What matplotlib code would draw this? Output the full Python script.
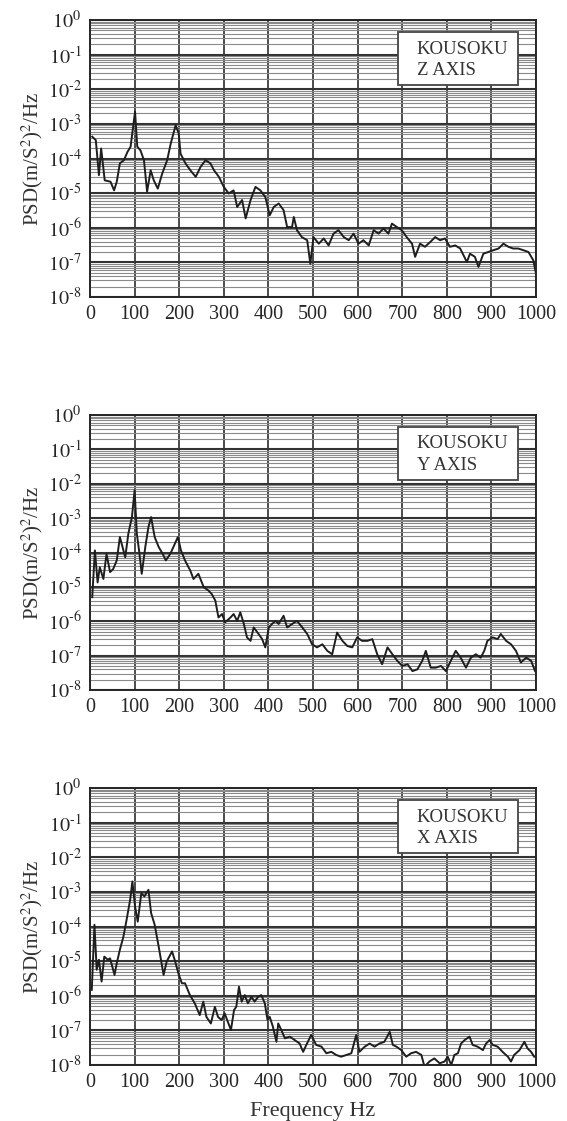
"""Three PSD panels (KOUSOKU Z / Y / X axis), log scale, scanned-figure look."""
import matplotlib
matplotlib.use("Agg")
import matplotlib.pyplot as plt
from matplotlib.patches import Rectangle
from matplotlib.ticker import LogLocator, NullFormatter, MultipleLocator, FuncFormatter
import numpy as np

# ---- data: frequency (Hz) and log10(PSD) ----
z_freq = [5, 13, 20, 25, 33, 46, 54, 60, 67, 76, 84, 91, 101, 106, 113, 121, 128, 136, 143, 152,
          162, 173, 181, 192, 199, 203, 214, 225, 237, 248, 259, 270, 278, 289, 300, 311, 322, 330,
          341, 349, 360, 371, 382, 393, 403, 412, 423, 434, 442, 453, 457, 464, 475, 487, 494, 501,
          513, 524, 535, 546, 557, 569, 580, 591, 602, 613, 625, 636, 647, 658, 669, 677, 688, 699,
          710, 722, 729, 740, 751, 763, 774, 785, 796, 807, 819, 830, 845, 852, 863, 871, 882, 893,
          904, 916, 927, 938, 949, 960, 972, 983, 994, 1000]
z_log = [-3.37, -3.47, -4.48, -3.71, -4.63, -4.67, -4.92, -4.67, -4.14, -4.05, -3.81, -3.66, -2.65,
         -3.66, -3.76, -4.05, -4.96, -4.34, -4.63, -4.87, -4.43, -4.05, -3.57, -3.04, -3.28, -3.86,
         -4.14, -4.34, -4.53, -4.24, -4.05, -4.14, -4.34, -4.53, -4.82, -5.01, -4.92, -5.40, -5.20,
         -5.73, -5.20, -4.82, -4.92, -5.11, -5.64, -5.40, -5.30, -5.49, -5.98, -5.98, -5.69, -6.07,
         -6.27, -6.36, -7.04, -6.27, -6.46, -6.31, -6.51, -6.17, -6.07, -6.27, -6.36, -6.17, -6.46,
         -6.36, -6.51, -6.07, -6.17, -6.02, -6.17, -5.88, -5.98, -6.07, -6.27, -6.46, -6.84, -6.46,
         -6.55, -6.41, -6.27, -6.36, -6.31, -6.55, -6.51, -6.60, -6.99, -6.75, -6.84, -7.13, -6.75,
         -6.70, -6.65, -6.60, -6.46, -6.55, -6.60, -6.60, -6.65, -6.70, -6.94, -7.33]

y_freq = [5, 11, 17, 22, 30, 37, 45, 52, 60, 67, 75, 79, 86, 94, 100, 105, 110, 116, 124, 131,
          137, 145, 154, 163, 170, 180, 187, 197, 204, 213, 225, 232, 243, 255, 266, 273, 281, 288,
          296, 303, 315, 322, 330, 337, 345, 352, 360, 367, 378, 386, 393, 401, 408, 416, 423, 434,
          442, 453, 464, 476, 487, 498, 509, 521, 532, 543, 554, 566, 577, 588, 599, 610, 622, 633,
          644, 655, 667, 678, 689, 700, 712, 723, 734, 745, 753, 764, 775, 787, 798, 809, 820, 831,
          843, 854, 865, 876, 884, 891, 903, 914, 921, 933, 944, 955, 966, 978, 989, 998]
y_log = [-5.30, -3.94, -4.87, -4.43, -4.77, -4.04, -4.57, -4.48, -4.23, -3.55, -3.94, -4.14, -3.45,
         -2.97, -2.19, -3.45, -3.94, -4.62, -3.84, -3.26, -2.97, -3.55, -3.84, -4.04, -4.23, -4.04,
         -3.84, -3.55, -3.94, -4.23, -4.53, -4.77, -4.62, -5.01, -5.11, -5.21, -5.40, -5.89, -5.79,
         -6.03, -5.89, -5.79, -5.99, -5.74, -6.08, -6.47, -6.57, -6.18, -6.37, -6.52, -6.76, -6.18,
         -6.08, -5.99, -6.08, -5.84, -6.18, -6.08, -5.99, -6.18, -6.37, -6.67, -6.76, -6.67, -6.86,
         -6.96, -6.33, -6.57, -6.72, -6.76, -6.47, -6.57, -6.57, -6.52, -6.96, -7.25, -6.76, -6.96,
         -7.15, -7.30, -7.25, -7.45, -7.40, -7.15, -6.86, -7.35, -7.35, -7.30, -7.45, -7.15, -6.86,
         -7.06, -7.35, -7.06, -6.96, -7.06, -6.86, -6.57, -6.47, -6.52, -6.37, -6.57, -6.67, -6.86,
         -7.20, -7.06, -7.15, -7.45]

x_freq = [4, 10, 15, 20, 26, 32, 40, 45, 55, 60, 67, 75, 82, 90, 95, 101, 107, 115, 122, 131,
          137, 145, 154, 165, 172, 184, 191, 198, 206, 213, 224, 235, 246, 254, 261, 271, 280, 287,
          295, 302, 316, 323, 328, 334, 340, 347, 354, 362, 369, 377, 384, 392, 398, 403, 410, 418,
          422, 429, 437, 448, 459, 470, 478, 485, 496, 507, 519, 530, 541, 552, 563, 575, 586, 597,
          604, 616, 627, 638, 649, 660, 672, 679, 687, 698, 709, 720, 731, 743, 750, 761, 772, 784,
          795, 802, 810, 817, 825, 832, 840, 851, 858, 869, 881, 888, 896, 903, 914, 925, 937, 944,
          951, 963, 974, 981, 989, 996]
x_log = [-5.83, -3.95, -5.25, -4.96, -5.59, -4.87, -4.96, -4.92, -5.40, -5.06, -4.67, -4.29, -3.81,
         -3.23, -2.70, -3.42, -3.86, -3.04, -3.13, -2.94, -3.61, -3.95, -4.58, -5.40, -5.01, -4.72,
         -5.01, -5.35, -5.64, -5.64, -5.98, -6.22, -6.56, -6.17, -6.61, -6.80, -6.32, -6.61, -6.70,
         -6.51, -6.99, -6.41, -6.32, -5.74, -6.17, -5.98, -6.22, -6.03, -6.17, -6.03, -5.98, -6.22,
         -6.70, -6.61, -6.89, -7.33, -6.80, -6.99, -7.23, -7.18, -7.28, -7.38, -7.62, -7.42, -7.13,
         -7.42, -7.47, -7.66, -7.62, -7.71, -7.76, -7.71, -7.66, -7.13, -7.62, -7.47, -7.38, -7.47,
         -7.38, -7.33, -7.04, -7.42, -7.47, -7.57, -7.76, -7.66, -7.62, -7.71, -8.05, -7.90, -7.81,
         -7.95, -7.90, -7.76, -8.00, -7.71, -7.66, -7.38, -7.28, -7.18, -7.42, -7.47, -7.57, -7.38,
         -7.28, -7.42, -7.47, -7.62, -7.76, -7.90, -7.71, -7.57, -7.33, -7.52, -7.62, -7.76]

panels = [
    ("KOUSOKU\nZ AXIS", z_freq, z_log),
    ("KOUSOKU\nY AXIS", y_freq, y_log),
    ("KOUSOKU\nX AXIS", x_freq, x_log),
]

plt.rcParams["font.family"] = ["Liberation Serif", "DejaVu Serif"]
plt.rcParams["mathtext.fontset"] = "stix"

W, H = 567, 1121
fig = plt.figure(figsize=(W / 100, H / 100), dpi=100)

# axes boxes in pixels: (left, top, right, bottom)
boxes = [(90, 20, 536, 297), (90, 415, 536, 690), (90, 788, 536, 1065)]


def pow_label(v, pos):
    e = int(round(np.log10(v)))
    if e < 0:
        return r"$10^{\text{-}%d}$" % (-e)
    return r"$10^{%d}$" % e


ink = "#262626"
for (label, f, lg), (l, t, r, b) in zip(panels, boxes):
    ax = fig.add_axes([l / W, 1 - b / H, (r - l) / W, (b - t) / H])
    ax.plot(f, 10 ** np.array(lg), "-", color="#1e1e1e", lw=1.4)
    ax.set_yscale("log")
    ax.set_xlim(0, 1000)
    ax.set_ylim(1e-8, 1e0)
    ax.xaxis.set_major_locator(MultipleLocator(100))
    ax.yaxis.set_major_locator(LogLocator(base=10, numticks=12))
    ax.yaxis.set_major_formatter(FuncFormatter(pow_label))
    ax.yaxis.set_minor_locator(LogLocator(base=10, subs=np.arange(2, 10), numticks=12))
    ax.yaxis.set_minor_formatter(NullFormatter())
    ax.grid(which="minor", axis="y", color="#8a8a8a", lw=0.8)
    ax.grid(which="major", axis="y", color="#333333", lw=1.5)
    ax.grid(which="major", axis="x", color="#1a1a1a", lw=1.1)
    ax.set_axisbelow(True)
    ax.tick_params(which="both", length=0, labelsize=14.5, colors=ink, pad=6)
    for s in ax.spines.values():
        s.set_color(ink)
        s.set_linewidth(1.4)
    ax.set_ylabel("PSD(m/S$^2$)$^2$/Hz", fontsize=15, color="#333333", labelpad=2)
    # legend-like label box
    ax.add_patch(Rectangle((0.69, 0.765), 0.27, 0.192, transform=ax.transAxes,
                           facecolor="white", edgecolor="#444444", lw=1.3, zorder=3))
    ax.text(0.733, 0.8555, label, transform=ax.transAxes, fontsize=13.5, color="#333333",
            va="center", ha="left", linespacing=1.35, zorder=4)

ax.set_xlabel("Frequency Hz", fontsize=16, color="#333333", labelpad=7)

fig.savefig("out.png", dpi=100)
plt.close(fig)
